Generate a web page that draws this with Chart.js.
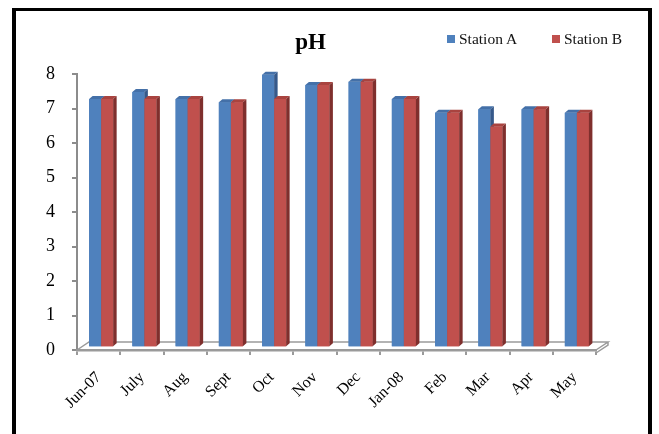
<!DOCTYPE html>
<html>
<head>
<meta charset="utf-8">
<script src="https://cdn.jsdelivr.net/npm/chart.js@4/dist/chart.umd.min.js"></script>
<style>
  html, body { margin: 0; padding: 0; background: #fff; }
  body { width: 659px; height: 434px; position: relative; overflow: hidden; font-family: "Liberation Serif", "Times New Roman", serif; }
  #frame { position: absolute; left: 12px; top: 8px; width: 632px; height: 500px; border-top: 3px solid #000; border-left: 4px solid #000; border-right: 4px solid #000; }
  #wrap { position: absolute; left: 0; top: 0; width: 659px; height: 434px; }
  #title { position: absolute; left: 260px; width: 101px; top: 30px; text-align: center; font-weight: bold; font-size: 23px; line-height: 23px; color: #000; }
  .leg { position: absolute; top: 31px; font-size: 15.5px; line-height: 15px; color: #111; white-space: nowrap; }
  .sw { position: absolute; width: 8px; height: 8px; top: 35px; }
</style>
</head>
<body>
<div id="frame"></div>
<div id="wrap"><canvas id="c" width="659" height="434"></canvas></div>
<div id="title">pH</div>
<div class="sw" style="left:447px;background:#4F81BD"></div>
<div class="leg" style="left:459px">Station A</div>
<div class="sw" style="left:552px;background:#C0504D"></div>
<div class="leg" style="left:564px">Station B</div>
<script>
const categories = ["Jun-07","July","Aug","Sept","Oct","Nov","Dec","Jan-08","Feb","Mar","Apr","May"];
const stationA = [7.2, 7.4, 7.2, 7.1, 7.9, 7.6, 7.7, 7.2, 6.8, 6.9, 6.9, 6.8];
const stationB = [7.2, 7.2, 7.2, 7.1, 7.2, 7.6, 7.7, 7.2, 6.8, 6.4, 6.9, 6.8];
const yTicks = [0,1,2,3,4,5,6,7,8];

const SHIFT_X = 2.5, SHIFT_Y = -2.7;   // bar placement inside floor depth
const DEPTH_X = 3.5, DEPTH_Y = -3;     // bar depth
const FLOOR_X = 12, FLOOR_Y = -8;      // floor depth
const faceColors = [
  { top: '#4470A8', side: '#36598A' },
  { top: '#A9433F', side: '#7F2F2D' }
];

function drawFaces(ctx, el, col) {
  const p = el.getProps(['x','y','base','width'], true);
  const l = p.x - p.width / 2, r = p.x + p.width / 2;
  ctx.fillStyle = col.top;
  ctx.beginPath();
  ctx.moveTo(l, p.y); ctx.lineTo(r, p.y);
  ctx.lineTo(r + DEPTH_X, p.y + DEPTH_Y); ctx.lineTo(l + DEPTH_X, p.y + DEPTH_Y);
  ctx.closePath(); ctx.fill();
  ctx.fillStyle = col.side;
  ctx.beginPath();
  ctx.moveTo(r, p.y); ctx.lineTo(r + DEPTH_X, p.y + DEPTH_Y);
  ctx.lineTo(r + DEPTH_X, p.base + DEPTH_Y); ctx.lineTo(r, p.base);
  ctx.closePath(); ctx.fill();
}

const bars3d = {
  id: 'bars3d',
  beforeDatasetsDraw(chart) {
    const ctx = chart.ctx, a = chart.chartArea;
    const y0 = chart.scales.y.getPixelForValue(0);
    ctx.save();
    ctx.strokeStyle = '#9a9a9a';
    ctx.lineWidth = 1.5;
    ctx.beginPath();
    ctx.moveTo(a.left, y0); ctx.lineTo(a.left + FLOOR_X, y0 + FLOOR_Y);
    ctx.lineTo(a.right + FLOOR_X, y0 + FLOOR_Y);
    ctx.lineTo(a.right, y0);
    ctx.moveTo(a.right + FLOOR_X, y0 + FLOOR_Y);
    ctx.lineTo(a.right + FLOOR_X, y0 + FLOOR_Y + 3);
    ctx.lineTo(a.right, y0 + 3);
    ctx.stroke();
    ctx.restore();
    ctx.save();
    ctx.translate(SHIFT_X, SHIFT_Y);
  },
  afterDatasetsDraw(chart) {
    const ctx = chart.ctx;
    const metas = [chart.getDatasetMeta(0), chart.getDatasetMeta(1)];
    for (let i = 0; i < categories.length; i++) {
      metas.forEach((meta, d) => {
        const el = meta.data[i];
        if (!el) return;
        el.draw(ctx, chart.chartArea);
        drawFaces(ctx, el, faceColors[d]);
      });
    }
    ctx.restore();
  }
};

new Chart(document.getElementById('c'), {
  type: 'bar',
  data: {
    labels: categories,
    datasets: [
      { label: 'Station A', data: stationA, backgroundColor: '#4F81BD',
        categoryPercentage: 0.556, barPercentage: 1.0 },
      { label: 'Station B', data: stationB, backgroundColor: '#C0504D',
        categoryPercentage: 0.556, barPercentage: 1.0 }
    ]
  },
  options: {
    responsive: false,
    animation: false,
    layout: { padding: { top: 74, right: 63, left: 0, bottom: 0 } },
    plugins: { legend: { display: false }, title: { display: false }, tooltip: { enabled: false } },
    scales: {
      y: {
        min: 0, max: 8,
        afterBuildTicks(scale) { scale.ticks = yTicks.map(v => ({ value: v })); },
        afterFit(scale) { scale.width = 77; },
        ticks: { color: '#000', padding: 17, font: { family: '"Liberation Serif", "Times New Roman", serif', size: 18 } },
        grid: { drawOnChartArea: false, tickLength: 5, color: '#8c8c8c', lineWidth: 2 },
        border: { display: true, color: '#8c8c8c', width: 2 }
      },
      x: {
        afterFit(scale) { scale.height = 84; },
        ticks: { color: '#000', maxRotation: 45, minRotation: 45, padding: 13,
                 font: { family: '"Liberation Serif", "Times New Roman", serif', size: 16 } },
        grid: { drawOnChartArea: false, offset: true, tickLength: 5, color: '#9a9a9a', lineWidth: 2 },
        border: { display: true, color: '#9a9a9a', width: 2.5 }
      }
    }
  },
  plugins: [bars3d]
});
</script>
</body>
</html>
